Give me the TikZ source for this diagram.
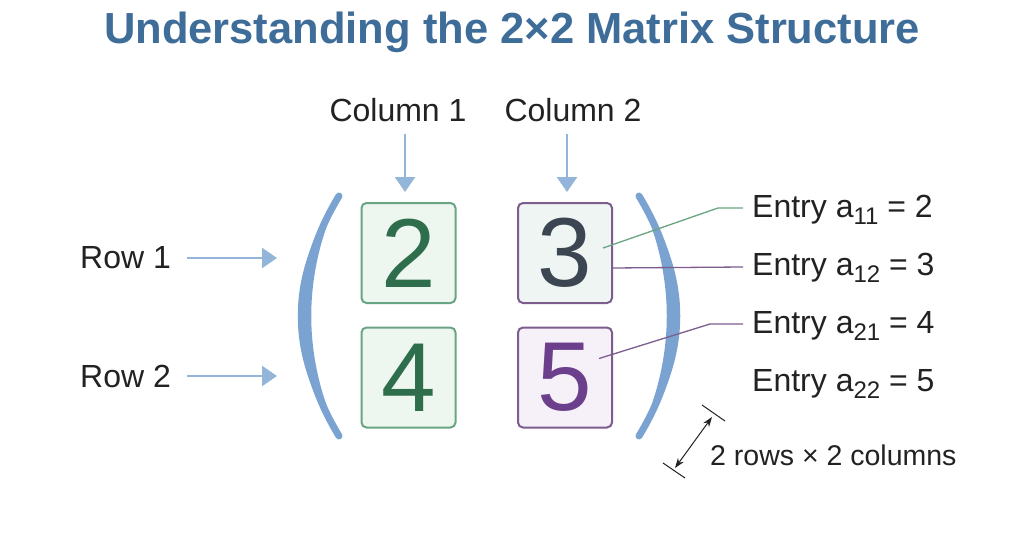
\documentclass[tikz,border=0pt]{standalone}
\usepackage{fontspec}
\setmainfont{Liberation Sans}
\usepackage{tikz}
\usetikzlibrary{arrows.meta}

\definecolor{titleblue}{HTML}{3E6D99}
\definecolor{parenblue}{HTML}{7AA3D1}
\definecolor{arrowblue}{HTML}{93B5D9}
\definecolor{greenline}{HTML}{6AA583}
\definecolor{greenfill}{HTML}{EEF6F0}
\definecolor{greentext}{HTML}{2F6E4C}
\definecolor{purpleline}{HTML}{7C5D8E}
\definecolor{mintfill}{HTML}{EFF5F3}
\definecolor{lavfill}{HTML}{F6F0F8}
\definecolor{slatetext}{HTML}{3C4652}
\definecolor{purpletext}{HTML}{6C3F8C}
\definecolor{inktext}{HTML}{222222}

\newcommand{\entsub}[1]{\raisebox{-7pt}{\fontsize{24}{24}\selectfont #1}}

\tikzset{
  label text/.style={font=\fontsize{32}{38}\selectfont, text=inktext, inner sep=0pt},
  cell/.style={draw, line width=2pt, rounded corners=5pt, minimum width=94pt, minimum height=100pt,
    inner sep=0pt, font=\fontsize{98}{98}\selectfont},
  blue arrow/.style={draw=arrowblue, line width=2.5pt, -{Triangle[width=20pt,length=15pt]}},
  leader/.style={line width=1.3pt}
}

\begin{document}
\begin{tikzpicture}[x=1pt,y=-1pt]
\useasboundingbox[fill=white] (0,0) rectangle (1024,536);

% title
\node[font=\fontsize{43.5}{48}\selectfont\bfseries, text=titleblue] (title) at (512,32) {Understanding the 2×2 Matrix Structure};

% column headers
\node[label text] (col1) at (398,110) {Column 1};
\node[label text] (col2) at (573,110) {Column 2};

% matrix cells
\node[cell, draw=greenline, fill=greenfill, text=greentext] (m11) at (408.5,253) {2};
\node[cell, draw=purpleline, fill=mintfill, text=slatetext] (m12) at (565,253) {3};
\node[cell, draw=greenline, fill=greenfill, text=greentext] (m21) at (408.5,377.5) {4};
\node[cell, draw=purpleline, fill=lavfill, text=purpletext] (m22) at (565,377.5) {5};

% column arrows
\coordinate (c1top) at (405,134);
\coordinate (c2top) at (567,134);
\draw[blue arrow] (c1top) -- ([yshift=10pt]m11.north -| c1top);
\draw[blue arrow] (c2top) -- ([yshift=10pt]m12.north -| c2top);

% row labels
\node[label text, anchor=west] (row1) at (80,258) {Row 1};
\node[label text, anchor=west] (row2) at (80,376) {Row 2};
\coordinate (r1end) at (277,258);
\coordinate (r2end) at (277,376);
\draw[blue arrow] ([xshift=16pt]row1.east) -- (r1end);
\draw[blue arrow] ([xshift=16pt]row2.east) -- (r2end);

% parentheses
\fill[parenblue] (339,196) .. controls (284,275) and (284,357) .. (339,436)
  .. controls (302,357) and (302,275) .. (339,196) -- cycle;
\draw[parenblue, line width=7pt, line cap=round] (339,196) .. controls (291,275) and (291,357) .. (339,436);
\fill[parenblue] (639,196) .. controls (694,275) and (694,357) .. (639,436)
  .. controls (676,357) and (676,275) .. (639,196) -- cycle;
\draw[parenblue, line width=7pt, line cap=round] (639,196) .. controls (687,275) and (687,357) .. (639,436);

% entries
\node[label text, anchor=west] (e11) at (752,210) {Entry a\entsub{11} = 2};
\node[label text, anchor=west] (e12) at (752,268) {Entry a\entsub{12} = 3};
\node[label text, anchor=west] (e21) at (752,326) {Entry a\entsub{21} = 4};
\node[label text, anchor=west] (e22) at (752,384) {Entry a\entsub{22} = 5};

% leader lines
\draw[leader, draw=greenline] ([xshift=-10pt,yshift=5pt]m12.east) -- (718,208) -- (743,208);
\draw[leader, draw=purpleline] ([xshift=-2pt,yshift=-15pt]m12.east) -- (743,267);
\draw[leader, draw=purpleline] ([xshift=-14pt,yshift=19pt]m22.east) -- (710,324) -- (743,324);

% size marker
\coordinate (dimlo) at (675,468);
\coordinate (dimhi) at (712,417);
\draw[line width=1pt, inktext] (663,463) -- (685,478);
\draw[line width=1pt, inktext] (702,405) -- (725,421);
\draw[line width=1pt, inktext, {Stealth[length=10pt,width=7pt]}-{Stealth[length=10pt,width=7pt]}] (dimlo) -- (dimhi);
\node[label text, anchor=west, font=\fontsize{28.5}{34}\selectfont] (dimtext) at (710,455) {2 rows × 2 columns};
\end{tikzpicture}
\end{document}
